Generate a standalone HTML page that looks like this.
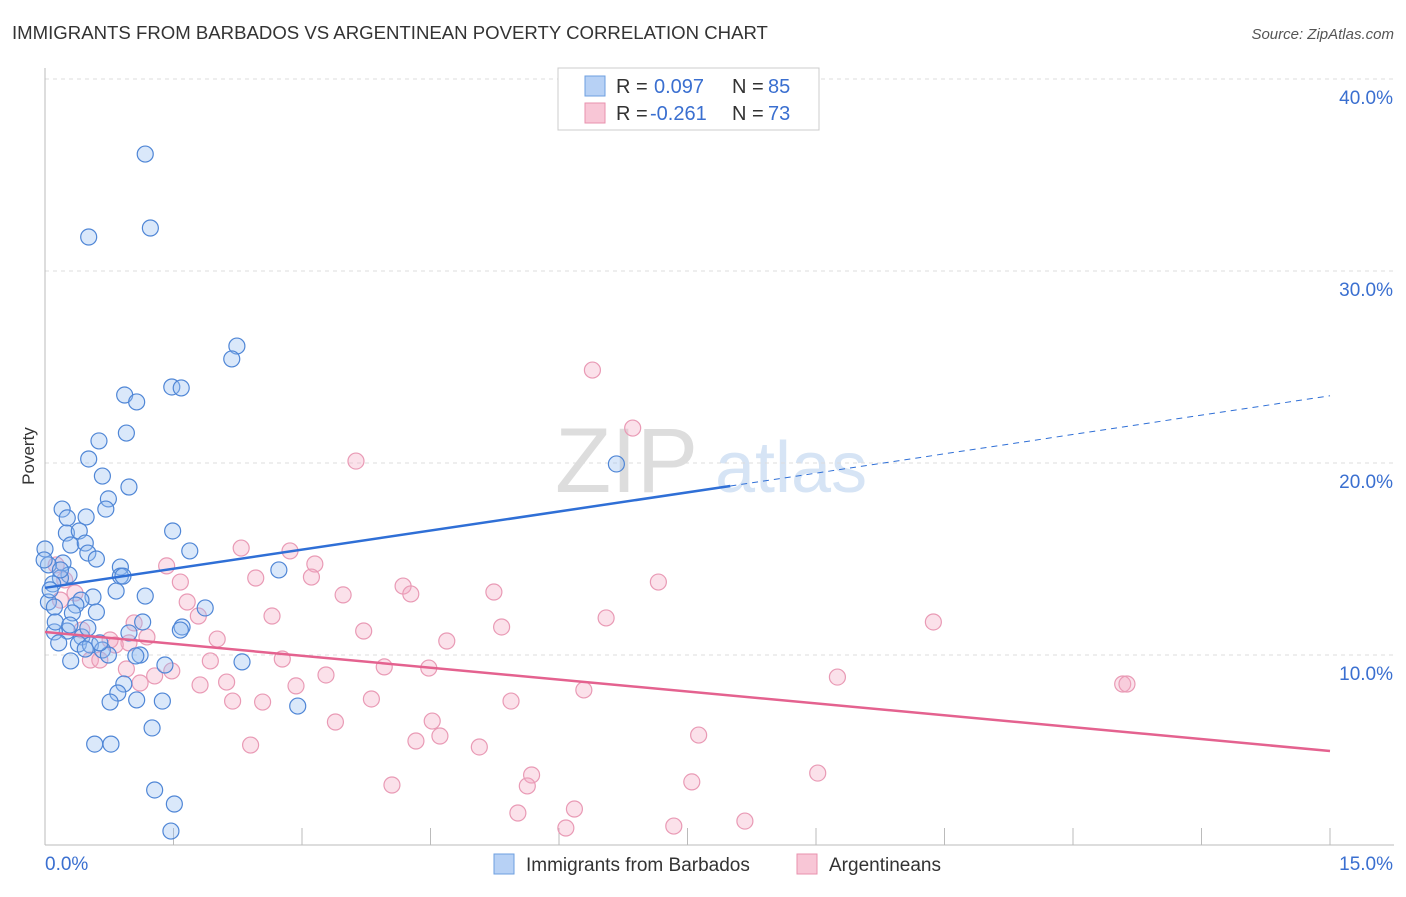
<!DOCTYPE html>
<html><head><meta charset="utf-8"><style>
body{margin:0;background:#fff;font-family:"Liberation Sans",sans-serif;}
svg text{font-family:"Liberation Sans",sans-serif;}
</style></head><body>
<svg width="1406" height="892">
<text x="12" y="39" font-size="18.6" fill="#333">IMMIGRANTS FROM BARBADOS VS ARGENTINEAN POVERTY CORRELATION CHART</text>
<text x="1394" y="39" font-size="15" fill="#555" font-style="italic" text-anchor="end">Source: ZipAtlas.com</text>
<text x="34" y="456" font-size="17" fill="#333" transform="rotate(-90 34 456)" text-anchor="middle">Poverty</text>
<text x="555" y="492" font-size="92" fill="#ddd" font-family="Liberation Serif">ZIP</text>
<text x="715" y="492" font-size="72" fill="#d6e4f5">atlas</text>
<g id="grid"></g><g id="axes"></g><g id="pts"></g><g id="trend"></g>
<g>
<rect x="558" y="68" width="261" height="62" fill="#fff" stroke="#ccc"/>
<rect x="585" y="76" width="20" height="20" fill="#b7d1f5" stroke="#6e9fe0"/>
<rect x="585" y="103" width="20" height="20" fill="#f8c6d6" stroke="#e891ae"/>
<text x="616" y="93" font-size="20" fill="#333">R =</text>
<text x="654" y="93" font-size="20" fill="#3a6fd0">0.097</text>
<text x="732" y="93" font-size="20" fill="#333">N =</text>
<text x="768" y="93" font-size="20" fill="#3a6fd0">85</text>
<text x="616" y="120" font-size="20" fill="#333">R =</text>
<text x="650" y="120" font-size="20" fill="#3a6fd0">-0.261</text>
<text x="732" y="120" font-size="20" fill="#333">N =</text>
<text x="768" y="120" font-size="20" fill="#3a6fd0">73</text>
</g>
<g>
<rect x="494" y="854" width="20" height="20" fill="#b7d1f5" stroke="#6e9fe0"/>
<text x="526" y="871" font-size="19" fill="#333">Immigrants from Barbados</text>
<rect x="797" y="854" width="20" height="20" fill="#f8c6d6" stroke="#e891ae"/>
<text x="829" y="871" font-size="19" fill="#333">Argentineans</text>
</g>
</svg>
<script>
const xTicks=[0,1.5,3,4.5,6,7.5,9,10.5,12,13.5,15];
const yTicks=[10,20,30,40];
const yTickLabels=["10.0%","20.0%","30.0%","40.0%"];
const xEndLabels=["0.0%","15.0%"];
const bluePx=[[145,154],[89,237],[150,228],[237,346],[232,359],[172,387],[181,388],[125,395],[137,402],[126,433],[99,441],[89,459],[102,476],[129,487],[108,499],[106,509],[62,509],[67,518],[86,517],[66,533],[79,531],[173,531],[71,545],[85,543],[190,551],[88,553],[96,559],[45,549],[63,563],[48,565],[120,567],[279,570],[69,575],[120,576],[123,576],[60,578],[53,584],[116,591],[145,596],[93,597],[81,600],[48,602],[205,608],[76,605],[54,607],[96,612],[143,622],[72,613],[182,627],[180,630],[129,633],[67,631],[54,632],[82,637],[78,644],[90,645],[59,643],[85,649],[102,650],[140,655],[136,656],[71,661],[165,665],[242,662],[108,655],[124,684],[118,693],[110,702],[137,700],[162,701],[298,706],[152,728],[95,744],[111,744],[155,790],[174,804],[171,831],[616,464],[44,560],[50,590],[55,622],[70,625],[88,628],[100,643],[60,570]];
const pinkPx=[[592,370],[633,428],[356,461],[241,548],[290,551],[167,566],[315,564],[180,582],[256,578],[311,577],[658,582],[403,586],[343,595],[411,594],[494,592],[187,602],[198,616],[272,616],[606,618],[933,622],[364,631],[502,627],[134,623],[147,637],[217,639],[447,641],[129,643],[115,645],[210,661],[282,659],[384,667],[429,668],[126,669],[155,676],[172,671],[326,675],[837,677],[1123,684],[1127,684],[200,685],[296,686],[584,690],[227,682],[140,683],[233,701],[263,702],[371,699],[511,701],[335,722],[432,721],[440,736],[416,741],[251,745],[479,747],[699,735],[532,775],[527,786],[392,785],[692,782],[818,773],[518,813],[574,809],[674,826],[745,821],[566,828],[56,565],[65,580],[75,593],[82,630],[90,660],[100,660],[60,600],[110,640]];
// convert read pixel positions to data values (percent)
const blueX=bluePx.map(p=>+((p[0]-45)/85.667).toFixed(2));
const blueY=bluePx.map(p=>+((847-p[1])/19.2).toFixed(2));
const pinkX=pinkPx.map(p=>+((p[0]-45)/85.667).toFixed(2));
const pinkY=pinkPx.map(p=>+((847-p[1])/19.2).toFixed(2));
const blueTrend=[[0,13.5],[8.0,18.8],[15,23.5]];
const pinkTrend=[[0,11.2],[15,5.0]];
const X=v=>45+v*85.667, Y=v=>847-v*19.2;
const NS="http://www.w3.org/2000/svg";
function mk(parent,tag,attrs){const e=document.createElementNS(NS,tag);for(const k in attrs)e.setAttribute(k,attrs[k]);document.getElementById(parent).appendChild(e);return e;}
yTicks.forEach((t,i)=>{
 let l=mk('grid','line',{x1:45,x2:1394,y1:Y(t),y2:Y(t),stroke:'#ddd','stroke-dasharray':'4,4'});
 
 
 let tx=mk('grid','text',{x:1393,y:Y(t)+25,'font-size':19,fill:'#3a6fd0','text-anchor':'end'});tx.textContent=yTickLabels[i];
 
 
});
let ax=mk('axes','line',{x1:45,x2:1394,y1:845,y2:845,stroke:'#bbb'});


let ay=mk('axes','line',{x1:45,x2:45,y1:68,y2:845,stroke:'#bbb'});


xTicks.forEach(t=>{let l=mk('axes','line',{x1:X(t),x2:X(t),y1:828,y2:845,stroke:'#bbb'});
 
 });
let l0=mk('axes','text',{x:45,y:870,'font-size':19,fill:'#3a6fd0'});l0.textContent=xEndLabels[0];


let l1=mk('axes','text',{x:1393,y:870,'font-size':19,fill:'#3a6fd0','text-anchor':'end'});l1.textContent=xEndLabels[1];


pinkX.forEach((x,i)=>{let c=mk('pts','circle',{cx:X(x),cy:Y(pinkY[i]),r:8,fill:'rgba(244,170,195,0.35)',stroke:'#e99ab5','stroke-width':1.2});
 
 });
blueX.forEach((x,i)=>{let c=mk('pts','circle',{cx:X(x),cy:Y(blueY[i]),r:8,fill:'rgba(150,190,240,0.35)',stroke:'#4f86d6','stroke-width':1.2});
 
 });
let b1=mk('trend','line',{x1:X(blueTrend[0][0]),y1:Y(blueTrend[0][1]),x2:X(blueTrend[1][0]),y2:Y(blueTrend[1][1]),stroke:'#2f6fd6','stroke-width':2.5});


let b2=mk('trend','line',{x1:X(blueTrend[1][0]),y1:Y(blueTrend[1][1]),x2:X(blueTrend[2][0]),y2:Y(blueTrend[2][1]),stroke:'#2f6fd6','stroke-width':1,'stroke-dasharray':'6,5'});


let p1=mk('trend','line',{x1:X(pinkTrend[0][0]),y1:Y(pinkTrend[0][1]),x2:X(pinkTrend[1][0]),y2:Y(pinkTrend[1][1]),stroke:'#e4628f','stroke-width':2.5});


</script>
</body></html>
